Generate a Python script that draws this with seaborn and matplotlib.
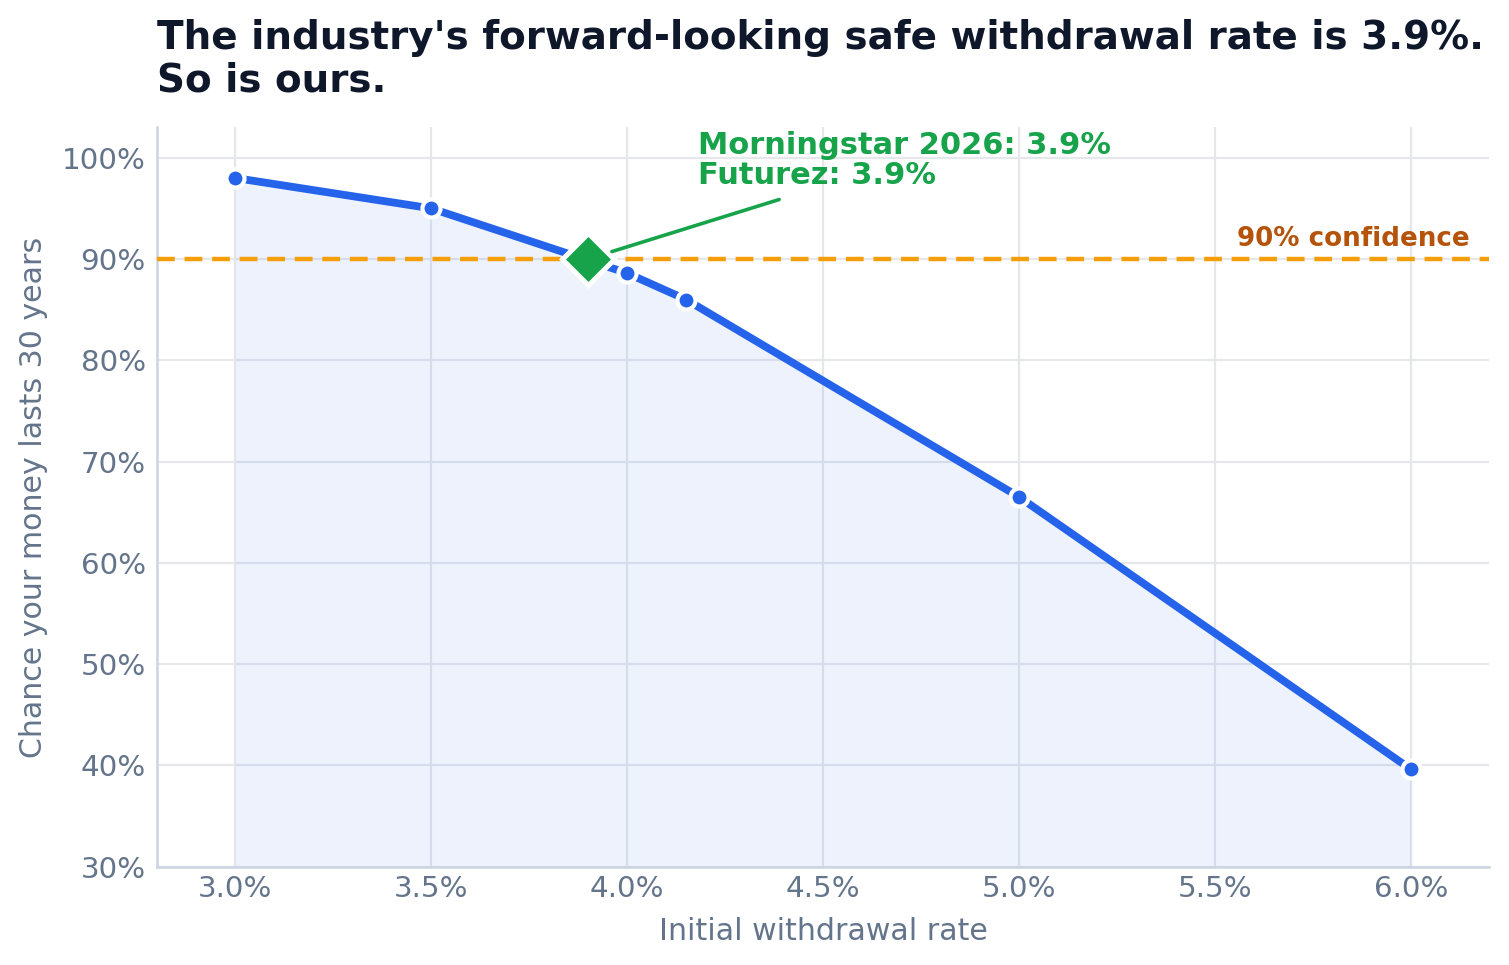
import matplotlib
matplotlib.use("Agg")
import matplotlib.pyplot as plt
import seaborn as sns
import pandas as pd
from matplotlib.ticker import FuncFormatter

rates = [3.0, 3.5, 4.0, 4.15, 5.0, 6.0]
success = [98.0, 95.0, 88.6, 86.0, 66.5, 39.6]
swr_rate = 3.9
swr_success = 90.0
confidence = 90.0
x_ticks = [3.0, 3.5, 4.0, 4.5, 5.0, 5.5, 6.0]
y_ticks = [30, 40, 50, 60, 70, 80, 90, 100]

df = pd.DataFrame({"rate": rates, "success": success})

sns.set_theme(style="whitegrid")
plt.rcParams["font.family"] = ["DejaVu Sans"]

BLUE = "#2563eb"
GREEN = "#16a34a"
ORANGE = "#f59e0b"
ORANGE_TXT = "#b45309"
MUTED = "#64748b"
DARK = "#0f172a"

fig, ax = plt.subplots(figsize=(7.545, 4.825), dpi=200)
fig.subplots_adjust(left=0.104, right=0.987, top=0.868, bottom=0.102)

ax.fill_between(df["rate"], df["success"], 30, color=BLUE, alpha=0.08, linewidth=0, zorder=1)
sns.lineplot(data=df, x="rate", y="success", ax=ax, color=BLUE, linewidth=2.8,
             marker="o", markersize=6.5, markeredgecolor="white", markeredgewidth=1.5, zorder=4)
ax.axhline(confidence, color=ORANGE, linestyle=(0, (4, 2.2)), linewidth=1.6, zorder=3)
ax.text(6.15, confidence + 0.65, "90% confidence", color=ORANGE_TXT, fontsize=9.4,
        fontweight="bold", ha="right", va="bottom")

ax.plot([swr_rate], [swr_success], marker="D", markersize=13, color=GREEN,
        markeredgecolor="white", markeredgewidth=1.8, zorder=6, linestyle="none")
ax.annotate("Morningstar 2026: 3.9%\nFuturez: 3.9%", xy=(swr_rate, swr_success),
            xytext=(4.18, 96.8), color=GREEN, fontsize=11, fontweight="bold",
            ha="left", va="bottom", linespacing=1.05,
            arrowprops=dict(arrowstyle="-", color=GREEN, lw=1.3, shrinkA=4, shrinkB=9),
            zorder=7)

ax.set_xlim(2.8, 6.2)
ax.set_ylim(30, 103)
ax.set_xticks(x_ticks)
ax.set_yticks(y_ticks)
ax.xaxis.set_major_formatter(FuncFormatter(lambda v, p: f"{v:.1f}%"))
ax.yaxis.set_major_formatter(FuncFormatter(lambda v, p: f"{v:.0f}%"))
ax.tick_params(axis="both", labelsize=10.6, colors=MUTED, length=0)
ax.tick_params(axis="x", pad=3)
ax.tick_params(axis="y", pad=4)
ax.set_xlabel("Initial withdrawal rate", fontsize=10.8, color=MUTED, labelpad=5)
ax.set_ylabel("Chance your money lasts 30 years", fontsize=10.8, color=MUTED, labelpad=5)
ax.grid(True, color="#e5e7eb", linewidth=0.8)
ax.set_axisbelow(True)
for s in ["top", "right"]:
    ax.spines[s].set_visible(False)
for s in ["left", "bottom"]:
    ax.spines[s].set_color("#cbd5e1")
    ax.spines[s].set_linewidth(0.9)

ax.set_title("The industry's forward-looking safe withdrawal rate is 3.9%.\nSo is ours.",
             loc="left", fontsize=14, fontweight="bold", color=DARK, pad=13, linespacing=1.15)

fig.savefig("out.png", dpi=200)
